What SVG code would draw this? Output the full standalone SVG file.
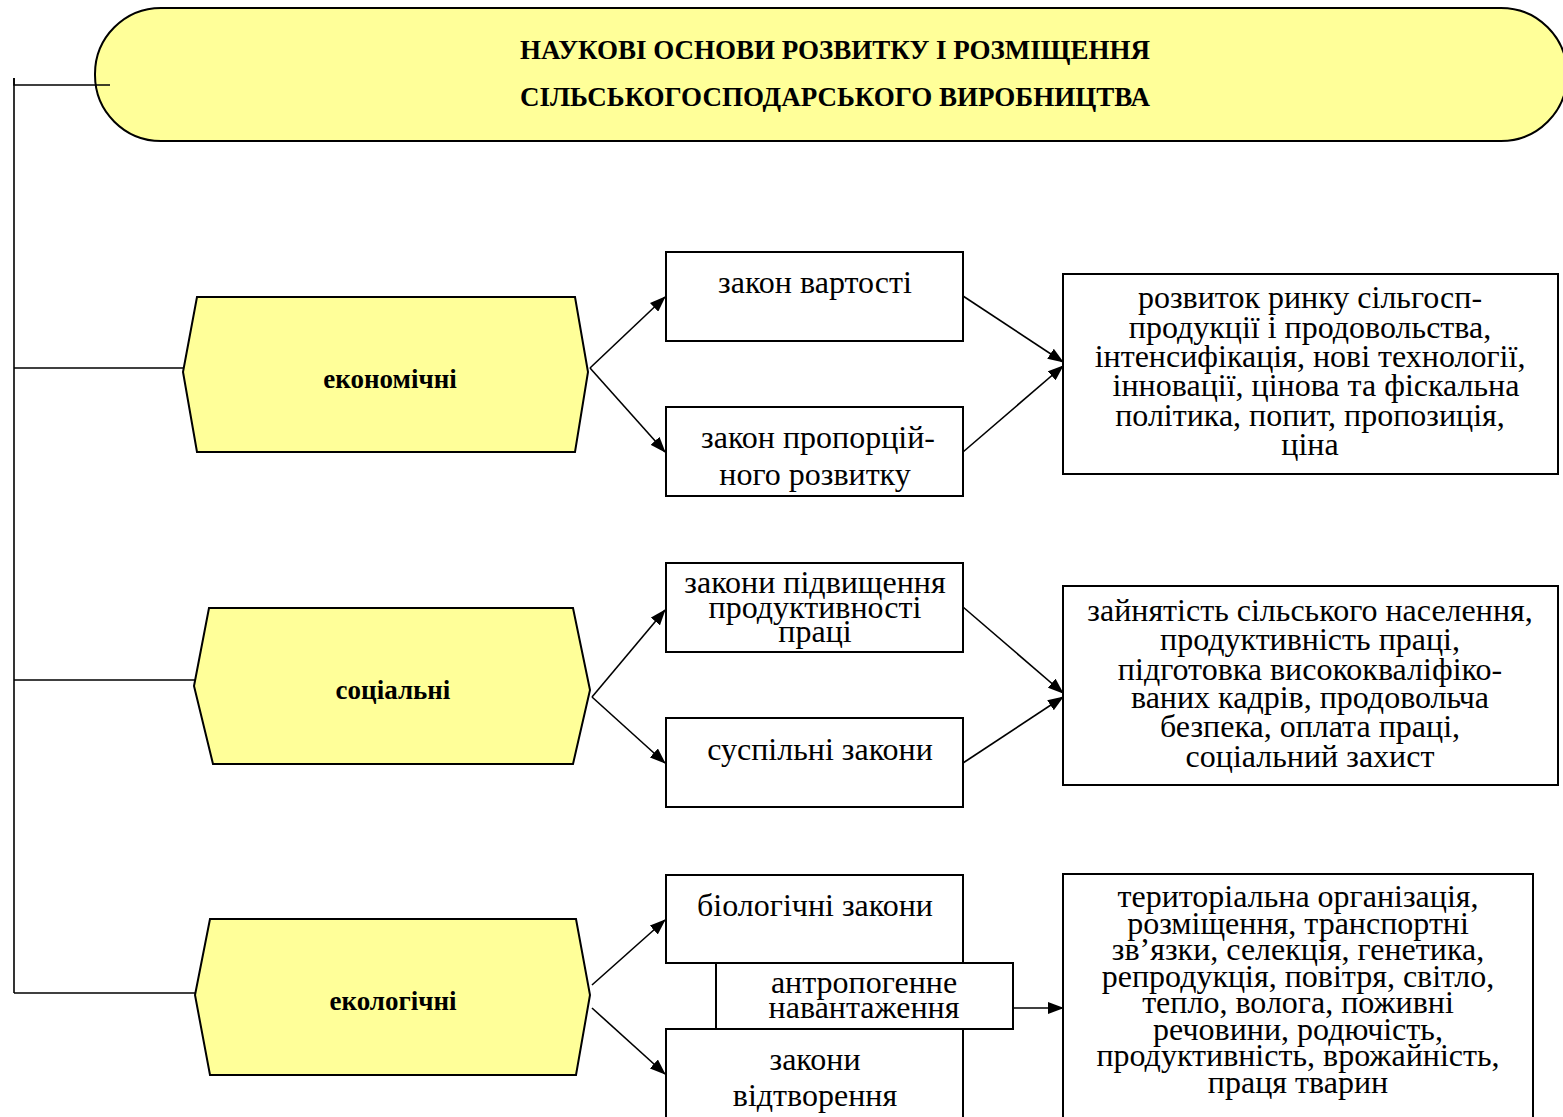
<svg xmlns="http://www.w3.org/2000/svg" width="1563" height="1117" viewBox="0 0 1563 1117">
<defs>
<marker id="ah" viewBox="0 0 16 12" refX="15" refY="6" markerWidth="16" markerHeight="12" markerUnits="userSpaceOnUse" orient="auto">
<path d="M0,0 L16,6 L0,12 Z" fill="#000"/>
</marker>
</defs>
<style>
.yel{fill:#FFFF99;stroke:#000;stroke-width:2}
.box{fill:#fff;stroke:#000;stroke-width:2}
.ln{fill:none;stroke:#000;stroke-width:1.6}
.arr{fill:none;stroke:#000;stroke-width:1.6;marker-end:url(#ah)}
.t{font-family:"Liberation Serif","Times New Roman",serif;font-size:32px;fill:#000;text-anchor:middle}
.b{font-family:"Liberation Serif","Times New Roman",serif;font-size:27px;font-weight:bold;fill:#000;text-anchor:middle}
.h{font-family:"Liberation Serif","Times New Roman",serif;font-size:27px;font-weight:bold;fill:#000;text-anchor:middle}
</style>
<rect width="1563" height="1117" fill="#fff"/>
<g id="title">
<rect class="yel" x="95" y="8" width="1472" height="133" rx="66" ry="66"/>
<text class="h" x="835" y="59">НАУКОВІ ОСНОВИ РОЗВИТКУ І РОЗМІЩЕННЯ</text>
<text class="h" x="835" y="106">СІЛЬСЬКОГОСПОДАРСЬКОГО ВИРОБНИЦТВА</text>
</g>
<g id="connectors">
<polyline class="ln" points="110,85 14,85 14,78"/>
<line class="ln" x1="14" y1="78" x2="14" y2="993"/>
<line class="ln" x1="14" y1="368" x2="186" y2="368"/>
<line class="ln" x1="14" y1="680" x2="206" y2="680"/>
<line class="ln" x1="14" y1="993" x2="206" y2="993"/>
<line class="arr" x1="590" y1="368" x2="665" y2="297"/>
<line class="arr" x1="590" y1="368" x2="665" y2="452"/>
<line class="arr" x1="963" y1="296" x2="1063" y2="362"/>
<line class="arr" x1="963" y1="452" x2="1063" y2="366"/>
<line class="arr" x1="592" y1="697" x2="665" y2="610"/>
<line class="arr" x1="592" y1="697" x2="665" y2="763"/>
<line class="arr" x1="963" y1="607" x2="1063" y2="693"/>
<line class="arr" x1="963" y1="763" x2="1063" y2="697"/>
<line class="arr" x1="592" y1="985" x2="665" y2="920"/>
<line class="arr" x1="592" y1="1008" x2="665" y2="1074"/>
<line class="arr" x1="1013" y1="1008" x2="1063" y2="1008"/>
</g>
<g id="econ">
<polygon class="yel" points="197,297 575,297 588,372 575,452 197,452 183,372"/>
<text class="b" x="390" y="388">економічні</text>
</g>
<g id="social">
<polygon class="yel" points="209,608 573,608 590,690 573,764 213,764 194,686"/>
<text class="b" x="393" y="699">соціальні</text>
</g>
<g id="ecol">
<polygon class="yel" points="210,919 576,919 590,995 576,1075 210,1075 195,995"/>
<text class="b" x="393" y="1010">екологічні</text>
</g>
<g id="law-value">
<rect class="box" x="666" y="252" width="297" height="89"/>
<text class="t" x="815" y="293">закон вартості</text>
</g>
<g id="law-proportion">
<rect class="box" x="666" y="407" width="297" height="89"/>
<text class="t" x="818" y="448">закон пропорцій-</text>
<text class="t" x="815" y="485">ного розвитку</text>
</g>
<g id="law-productivity">
<rect class="box" x="666" y="563" width="297" height="89"/>
<text class="t" x="815" y="593">закони підвищення</text>
<text class="t" x="815" y="618">продуктивності</text>
<text class="t" x="815" y="642">праці</text>
</g>
<g id="law-social">
<rect class="box" x="666" y="718" width="297" height="89"/>
<text class="t" x="820" y="760">суспільні закони</text>
</g>
<g id="law-bio">
<rect class="box" x="666" y="875" width="297" height="88"/>
<text class="t" x="815" y="916">біологічні закони</text>
</g>
<g id="law-reproduction">
<rect class="box" x="666" y="1029" width="297" height="100"/>
<text class="t" x="815" y="1070">закони</text>
<text class="t" x="815" y="1106">відтворення</text>
</g>
<g id="anthropogenic">
<rect class="box" x="716" y="963" width="297" height="66"/>
<text class="t" x="864" y="993">антропогенне</text>
<text class="t" x="864" y="1018">навантаження</text>
</g>
<g id="result-econ">
<rect class="box" x="1063" y="274" width="495" height="200"/>
<text class="t" x="1310" y="308">розвиток ринку сільгосп-</text>
<text class="t" x="1310" y="338">продукції і продовольства,</text>
<text class="t" x="1310" y="367">інтенсифікація, нові технології,</text>
<text class="t" x="1316" y="396">інновації,  цінова та фіскальна</text>
<text class="t" x="1310" y="426">політика, попит, пропозиція,</text>
<text class="t" x="1310" y="455">ціна</text>
</g>
<g id="result-social">
<rect class="box" x="1063" y="586" width="495" height="199"/>
<text class="t" x="1310" y="621">зайнятість сільського населення,</text>
<text class="t" x="1310" y="650">продуктивність праці,</text>
<text class="t" x="1310" y="680">підготовка  висококваліфіко-</text>
<text class="t" x="1310" y="708">ваних кадрів, продовольча</text>
<text class="t" x="1310" y="737">безпека, оплата праці,</text>
<text class="t" x="1310" y="767">соціальний захист</text>
</g>
<g id="result-ecol">
<rect class="box" x="1063" y="874" width="470" height="260"/>
<text class="t" x="1298" y="907">територіальна організація,</text>
<text class="t" x="1298" y="934">розміщення, транспортні</text>
<text class="t" x="1298" y="960">зв’язки, селекція, генетика,</text>
<text class="t" x="1298" y="987">репродукція, повітря, світло,</text>
<text class="t" x="1298" y="1013">тепло, волога, поживні</text>
<text class="t" x="1298" y="1040">речовини, родючість,</text>
<text class="t" x="1298" y="1066">продуктивність, врожайність,</text>
<text class="t" x="1298" y="1093">праця тварин</text>
</g>
</svg>
